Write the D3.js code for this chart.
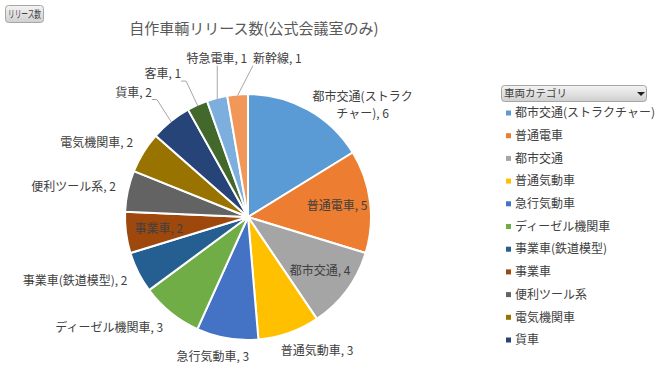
<!DOCTYPE html>
<html>
<head>
<meta charset="utf-8">
<script src="https://cdn.jsdelivr.net/npm/d3@7"></script>
<style>
  body { margin: 0; background: #fff; }
  text { font-family: "Noto Sans CJK JP", "Noto Sans", sans-serif; }
</style>
</head>
<body>
<script>
const categories = ["都市交通(ストラクチャー)", "普通電車", "都市交通", "普通気動車", "急行気動車",
  "ディーゼル機関車", "事業車(鉄道模型)", "事業車", "便利ツール系", "電気機関車", "貨車", "客車", "特急電車", "新幹線"];
const values = [6, 5, 4, 3, 3, 3, 2, 2, 2, 2, 2, 1, 1, 1];
const colors = ["#5B9BD5", "#ED7D31", "#A5A5A5", "#FFC000", "#4472C4", "#70AD47", "#255E91",
  "#9E480E", "#636363", "#997300", "#264478", "#43682B", "#7CAFDD", "#F1975A"];
const insideLabels = ["普通電車", "都市交通", "事業車"];
const title = "自作車輌リリース数(公式会議室のみ)";
const legendTitle = "車両カテゴリ";
const fieldButton = "リリース数";

const W = 657, H = 373;
const cx = 248, cy = 217, r = 123;

const svg = d3.select("body").append("svg")
    .attr("width", W)
    .attr("height", H);

const defs = svg.append("defs");
const grad = defs.append("linearGradient")
    .attr("id", "btn").attr("x1", 0).attr("x2", 0).attr("y1", 0).attr("y2", 1);
grad.append("stop").attr("offset", "0%").attr("stop-color", "#f4f4f4");
grad.append("stop").attr("offset", "100%").attr("stop-color", "#cfcfcf");

// field button top-left
svg.append("rect")
    .attr("x", 5.5).attr("y", 5.5).attr("width", 38).attr("height", 17).attr("rx", 3)
    .attr("fill", "url(#btn)").attr("stroke", "#a6a6a6");
svg.append("text")
    .attr("x", 24.5).attr("y", 14).attr("dy", "0.35em")
    .attr("text-anchor", "middle")
    .attr("font-size", 10.5).attr("fill", "#404040")
    .attr("textLength", 33).attr("lengthAdjust", "spacingAndGlyphs")
    .text(fieldButton);

// title
svg.append("text")
    .attr("x", 254).attr("y", 29).attr("dy", "0.35em")
    .attr("text-anchor", "middle")
    .attr("font-size", 15).attr("fill", "#595959")
    .text(title);

const data = categories.map((c, i) => ({ name: c, value: values[i] }));
const color = d3.scaleOrdinal().domain(categories).range(colors);
const pie = d3.pie().sort(null).value(d => d.value);
const arcs = pie(data);
const arc = d3.arc().innerRadius(0).outerRadius(r);

const g = svg.append("g").attr("transform", `translate(${cx},${cy})`);

g.selectAll("path.slice")
  .data(arcs)
  .join("path")
    .attr("class", "slice")
    .attr("d", arc)
    .attr("fill", d => color(d.data.name))
    .attr("stroke", "#fff")
    .attr("stroke-width", 2)
    .attr("stroke-linejoin", "round");

const polar = (a, R) => [R * Math.sin(a), -R * Math.cos(a)];
const lh = 17, fs = 12;

const leaderG = g.append("g");
const labelG = g.append("g");

// inside labels
arcs.filter(d => insideLabels.includes(d.data.name)).forEach(d => {
  const a = (d.startAngle + d.endAngle) / 2;
  const [x, y] = polar(a, r * 0.73);
  labelG.append("text")
      .attr("x", x).attr("y", y).attr("dy", "0.35em")
      .attr("text-anchor", "middle")
      .attr("font-size", fs).attr("fill", "#404040")
      .text(`${d.data.name}, ${d.data.value}`);
});

// outside labels: measure, wrap, place, then push apart
const R0 = r + 12, R1 = r + 30;
const outside = arcs.filter(d => !insideLabels.includes(d.data.name)).map(d => {
  const t = labelG.append("text")
      .attr("text-anchor", "middle")
      .attr("font-size", fs).attr("fill", "#404040");
  const full = `${d.data.name}, ${d.data.value}`;
  t.text(full);
  let lines = [full];
  if (t.node().getComputedTextLength() > 120) {
    lines = [];
    let cur = "";
    for (const ch of full) {
      t.text(cur + ch);
      if (t.node().getComputedTextLength() > 106 && cur) { lines.push(cur); cur = ch; }
      else cur += ch;
    }
    lines.push(cur);
  }
  t.text(null);
  let w = 0;
  lines.forEach(ln => {
    const ts = t.append("tspan").text(ln);
    w = Math.max(w, ts.node().getComputedTextLength());
  });
  const mid = (d.startAngle + d.endAngle) / 2;
  return { d, t, lines, w, mid, angle: mid, R: R0, moved: false };
});

function box(l) {
  const [px, py] = polar(l.angle, l.R);
  const s = Math.sin(l.angle), c = Math.cos(l.angle);
  const bx = px + (l.w / 2) * Math.sign(s) * Math.min(1, 2 * Math.abs(s));
  const by = py - c * 7 + (l.lines.length > 1 ? 4 : 0);
  return { cx: bx, cy: by, x0: bx - l.w / 2, x1: bx + l.w / 2, y0: by - 7, y1: by - 7 + l.lines.length * lh - 3 };
}
const overlap = (a, b, px, py) => a.x0 < b.x1 + px && b.x0 < a.x1 + px && a.y0 < b.y1 + py && b.y0 < a.y1 + py;

// labels that crowd each other at the default spot move out and get a leader line
for (let i = 0; i < outside.length; i++) {
  for (let j = i + 1; j < outside.length; j++) {
    const A = outside[i], B = outside[j];
    if (overlap(box(A), box(B), 10, 8)) A.moved = B.moved = true;
  }
}
outside.forEach(l => { if (l.moved) l.R = R1; });

// spread crowded labels, pushing the later one clockwise harder
for (let it = 0; it < 800; it++) {
  let any = false;
  for (let i = 0; i < outside.length; i++) {
    for (let j = i + 1; j < outside.length; j++) {
      const A = outside[i], B = outside[j];
      if (!overlap(box(A), box(B), 5, 2)) continue;
      any = true;
      const step = 0.004;
      const both = A.moved && B.moved;
      const kA = both ? 0.4 : 2, kB = both ? 1.6 : 2;
      if (B.angle - A.angle <= Math.PI) {
        if (A.moved) A.angle -= step * kA;
        if (B.moved) B.angle += step * kB;
      } else {
        if (A.moved) A.angle += step * kB;
        if (B.moved) B.angle -= step * kA;
      }
    }
  }
  if (!any) break;
}

outside.forEach(l => {
  const b = box(l);
  l.t.attr("x", b.cx).attr("y", b.cy);
  l.t.selectAll("tspan")
      .attr("x", b.cx)
      .attr("dy", (_, i) => i === 0 ? "0.35em" : lh);
  if (l.moved) {
    const [ex, ey] = polar(l.mid, r - 1);
    const sx = Math.max(b.x0, Math.min(b.x1, ex));
    const sy = Math.max(b.y0, Math.min(b.y1, ey));
    const pts = sx === b.x1 ? [[sx, sy], [sx + 5, sy], [ex, ey]] : [[sx, sy], [ex, ey]];
    leaderG.append("path")
        .attr("d", d3.line()(pts))
        .attr("fill", "none")
        .attr("stroke", "#a6a6a6")
        .attr("stroke-width", 1);
  }
});

// legend (only the rows that fit in the legend box are shown)
const leg = svg.append("g");
leg.append("rect")
    .attr("x", 501.5).attr("y", 85.5).attr("width", 145).attr("height", 16).attr("rx", 3)
    .attr("fill", "url(#btn)").attr("stroke", "#a6a6a6");
leg.append("text")
    .attr("x", 504).attr("y", 93.5).attr("dy", "0.35em")
    .attr("font-size", 10.5).attr("fill", "#404040")
    .text(legendTitle);
leg.append("path")
    .attr("d", "M637,92 L645,92 L641,96 Z")
    .attr("fill", "#202020");

const rowY = d3.scaleLinear().domain([0, 1]).range([113, 135.7]);
const shown = categories.filter((c, i) => rowY(i) < 350);
const items = leg.append("g")
  .selectAll("g")
  .data(shown)
  .join("g")
    .attr("transform", (d, i) => `translate(0,${rowY(i)})`);
items.append("rect")
    .attr("x", 506).attr("y", -2.5).attr("width", 5).attr("height", 5)
    .attr("fill", d => color(d));
items.append("text")
    .attr("x", 515).attr("dy", "0.35em")
    .attr("font-size", fs).attr("fill", "#404040")
    .text(d => d);
</script>
</body>
</html>
